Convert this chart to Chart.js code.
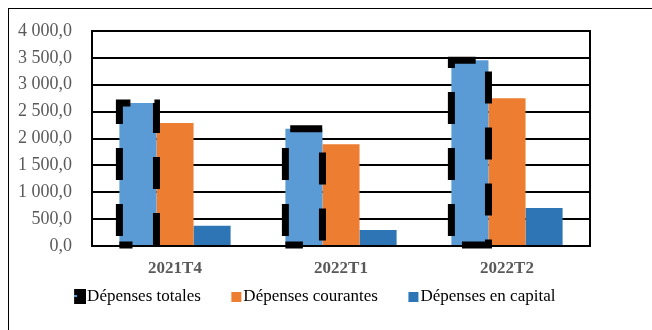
<!DOCTYPE html>
<html>
<head>
<meta charset="utf-8">
<script src="https://cdn.jsdelivr.net/npm/chart.js@4"></script>
<style>
  html, body { margin: 0; padding: 0; background: #fff; }
  body { width: 652px; height: 330px; overflow: hidden; }
  #frame { position: absolute; left: 8px; top: 8px; width: 700px; height: 400px;
           border-left: 1.5px solid #000; border-top: 1.5px solid #000; }
  #wrap { position: absolute; left: 9px; top: 9px; width: 612px; height: 321px; }
</style>
</head>
<body>
<div id="frame"></div>
<div id="wrap"><canvas id="chart1"></canvas></div>
<script>
const trimestres = ['2021T4', '2022T1', '2022T2'];
const depensesTotales = [2660, 2180, 3455];
const depensesCourantes = [2290, 1895, 2750];
const depensesCapital = [375, 300, 705];
const yTicks = [0, 500, 1000, 1500, 2000, 2500, 3000, 3500, 4000];

const couleurs = ['#5B9BD5', '#ED7D31', '#2E75B6'];

function fmt(v) {
    let s = Math.round(v).toString();
    s = s.replace(/\B(?=(\d{3})+(?!\d))/g, ' ');
    return s + ',0';
}

// petit carré de légende, calé à droite pour coller au texte
function legendMarker(i) {
    const c = document.createElement('canvas');
    c.width = 39;
    c.height = 16;
    const g = c.getContext('2d');
    if (i === 0) {
        g.fillStyle = '#000';
        g.fillRect(27, 0, 12, 15);
        g.fillStyle = couleurs[0];
        g.fillRect(27, 6, 3, 2);
    } else {
        g.fillStyle = couleurs[i];
        g.fillRect(28, 3, 10, 10);
    }
    return c;
}

// contour en tirets de la série "Dépenses totales"
const dashedBorder = {
    id: 'dashedBorder',
    afterDatasetDraw(chart, args) {
        if (args.index !== 0) return;
        const ctx = chart.ctx;
        ctx.save();
        ctx.strokeStyle = '#000';
        ctx.lineWidth = 7;
        ctx.setLineDash([32, 24]);
        ctx.lineDashOffset = -9;
        args.meta.data.forEach(bar => {
            const l = bar.x - bar.width / 2, r = bar.x + bar.width / 2;
            ctx.beginPath();
            ctx.moveTo(l, bar.base);
            ctx.lineTo(l, bar.y);
            ctx.lineTo(r, bar.y);
            ctx.lineTo(r, bar.base);
            ctx.closePath();
            ctx.stroke();
        });
        ctx.restore();
    }
};

const ctx1 = document.getElementById('chart1').getContext('2d');

const data1 = {
    labels: trimestres,
    datasets: [{
        label: 'Dépenses totales',
        data: depensesTotales,
        backgroundColor: couleurs[0]
    }, {
        label: 'Dépenses courantes',
        data: depensesCourantes,
        backgroundColor: couleurs[1]
    }, {
        label: 'Dépenses en capital',
        data: depensesCapital,
        backgroundColor: couleurs[2]
    }]
};

const config1 = {
    type: 'bar',
    data: data1,
    plugins: [dashedBorder],
    options: {
        responsive: true,
        maintainAspectRatio: false,
        animation: false,
        categoryPercentage: 0.67,
        barPercentage: 1,
        layout: { autoPadding: false, padding: { top: 22, right: 20, bottom: 14.5, left: 0 } },
        plugins: {
            legend: {
                position: 'bottom',
                labels: {
                    font: { family: 'Liberation Serif', size: 17 },
                    color: '#595959',
                    usePointStyle: true,
                    pointStyleWidth: 24,
                    boxHeight: 11,
                    padding: 10,
                    generateLabels(chart) {
                        return chart.data.datasets.map((ds, i) => ({
                            text: ds.label,
                            pointStyle: legendMarker(i),
                            fillStyle: ds.backgroundColor,
                            lineWidth: 0,
                            datasetIndex: i
                        }));
                    }
                }
            },
            tooltip: { enabled: false }
        },
        scales: {
            x: {
                grid: { display: false, drawTicks: false },
                border: { color: '#000', width: 2 },
                afterFit(axis) { axis.height = 32.5; },
                ticks: {
                    font: { family: 'Liberation Serif', size: 17, weight: 'bold' },
                    color: '#595959',
                    padding: 12
                }
            },
            y: {
                min: 0,
                max: 4000,
                afterBuildTicks(axis) { axis.ticks = yTicks.map(v => ({ value: v })); },
                afterFit(axis) {
                    axis.width = 83;
                    axis.paddingTop = 0;
                    axis.paddingBottom = 0;
                },
                grid: { color: '#000', lineWidth: 2, drawTicks: false },
                border: { color: '#000', width: 2 },
                ticks: {
                    font: { family: 'Liberation Serif', size: 18 },
                    color: '#595959',
                    padding: 20,
                    callback: v => fmt(v)
                }
            },
            // axe vide à droite : ferme le cadre du graphique
            y2: {
                position: 'right',
                min: 0,
                max: 4000,
                afterFit(axis) {
                    axis.width = 11;
                    axis.paddingTop = 0;
                    axis.paddingBottom = 0;
                },
                grid: { display: false, drawTicks: false },
                border: { color: '#000', width: 2 },
                ticks: { display: false }
            }
        }
    }
};

const chart1 = new Chart(ctx1, config1);
</script>
</body>
</html>
